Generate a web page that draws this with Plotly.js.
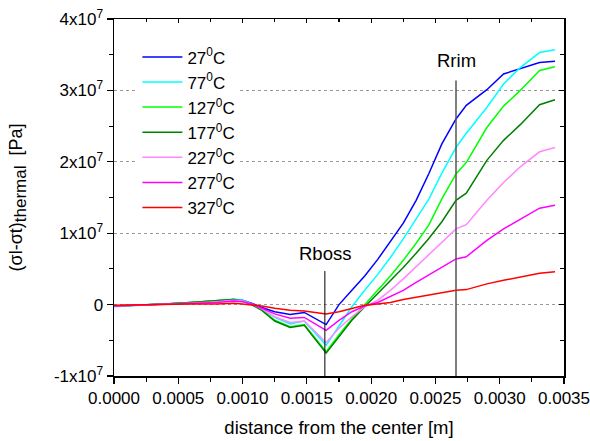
<!DOCTYPE html>
<html>
<head>
<meta charset="utf-8">
<script src="https://cdn.plot.ly/plotly-3.0.1.min.js"></script>
<style>html,body{margin:0;padding:0;background:#fff;}#chart{width:590px;height:441px;}</style>
</head>
<body>
<div id="chart"></div>
<script>
// distance from the center [m]
const xDist = [0, 0.0002, 0.0004, 0.0006, 0.0008, 0.00093, 0.001, 0.00107, 0.00115, 0.00125, 0.00137, 0.00148, 0.00165, 0.00175, 0.00185, 0.00195, 0.00205, 0.00215, 0.00225, 0.00235, 0.00245, 0.00255, 0.00266, 0.00274, 0.0029, 0.00303, 0.00316, 0.00331, 0.00343];
// stress values in units of 1e7 Pa
const s27  = [-0.02,-0.01,0.01,0.03,0.05,0.07,0.06,0.02,-0.04,-0.10,-0.14,-0.11,-0.28, 0.00,0.20,0.40,0.63,0.88,1.14,1.46,1.84,2.25,2.60,2.79,3.01,3.23,3.30,3.39,3.41];
const s77  = [-0.03,-0.01,0.01,0.03,0.05,0.08,0.06,0.01,-0.06,-0.18,-0.27,-0.23,-0.57, -0.30,-0.03,0.20,0.42,0.66,0.92,1.20,1.48,1.84,2.20,2.40,2.76,3.09,3.32,3.53,3.57];
const s127 = [-0.02,-0.01,0.01,0.03,0.05,0.07,0.05,0.00,-0.07,-0.22,-0.31,-0.28,-0.66, -0.42,-0.20,0.00,0.20,0.40,0.62,0.86,1.12,1.48,1.83,1.99,2.48,2.78,3.00,3.28,3.33];
const s177 = [-0.02,-0.01,0.01,0.03,0.05,0.07,0.05,0.00,-0.08,-0.23,-0.32,-0.29,-0.68, -0.45,-0.22,-0.03,0.15,0.33,0.52,0.72,0.93,1.16,1.46,1.56,2.02,2.30,2.52,2.80,2.87];
const s227 = [-0.02,-0.01,0.01,0.02,0.04,0.06,0.05,0.01,-0.06,-0.17,-0.25,-0.23,-0.53, -0.33,-0.17,-0.03,0.06,0.20,0.36,0.53,0.70,0.87,1.06,1.12,1.46,1.71,1.93,2.14,2.20];
const s277 = [-0.02,-0.01,0.01,0.02,0.03,0.05,0.04,0.01,-0.05,-0.13,-0.19,-0.18,-0.36, -0.22,-0.10,-0.02,0.03,0.11,0.20,0.31,0.42,0.53,0.64,0.67,0.90,1.06,1.20,1.35,1.39];
const s327 = [-0.01,0.00,0.00,0.01,0.01,0.02,0.01,0.00,-0.02,-0.05,-0.08,-0.09,-0.13, -0.10,-0.06,-0.01,0.01,0.03,0.07,0.10,0.14,0.17,0.20,0.21,0.29,0.34,0.39,0.44,0.46];

const seriesNames = ['27<sup>0</sup>C','77<sup>0</sup>C','127<sup>0</sup>C','177<sup>0</sup>C','227<sup>0</sup>C','277<sup>0</sup>C','327<sup>0</sup>C'];
const seriesData = [s27, s77, s127, s177, s227, s277, s327];
const seriesColors = ['#0000ff','#00ffff','#00ff00','#008000','#ff88ff','#ff00ff','#ff0000'];

const yTickVals = [-1, 0, 1, 2, 3, 4];
const yTickText = ['-1x10<sup>7</sup>','0','1x10<sup>7</sup>','2x10<sup>7</sup>','3x10<sup>7</sup>','4x10<sup>7</sup>'];
const xTickVals = [0, 0.0005, 0.001, 0.0015, 0.002, 0.0025, 0.003, 0.0035];
const xTickText = ['0.0000','0.0005','0.0010','0.0015','0.0020','0.0025','0.0030','0.0035'];

// marker lines: [x position, top y]
const rBoss = {x: 0.00164, top: 0.47, labelY: 0.71, label: 'Rboss'};
const rRim  = {x: 0.00266, top: 3.14, labelY: 3.42, label: 'Rrim'};

const FONT = 'Liberation Sans, Arial, sans-serif';

const traces = seriesData.map((d, i) => ({
  x: xDist, y: d, type: 'scatter', mode: 'lines', name: seriesNames[i],
  line: {color: seriesColors[i], width: 1.5}
}));
traces.push({x: [], y: [], xaxis: 'x2', yaxis: 'y2', showlegend: false, type: 'scatter', mode: 'lines'});

const layout = {
  width: 590, height: 441,
  margin: {l: 113.5, r: 25.5, t: 18.5, b: 65.3},
  paper_bgcolor: '#fff', plot_bgcolor: '#fff',
  font: {family: FONT, size: 17, color: '#000'},
  showlegend: true,
  legend: {x: 0.052, y: 0.943, xanchor: 'left', yanchor: 'top', bgcolor: '#fff', borderwidth: 0,
           itemwidth: 40,
           font: {family: FONT, size: 17, color: '#000'}, tracegroupgap: 0},
  xaxis: {
    range: [0, 0.0035], tickvals: xTickVals, ticktext: xTickText,
    ticks: 'outside', ticklen: 6, tickwidth: 1.2, tickcolor: '#000',
    minor: {dtick: 0.00025, ticks: 'outside', ticklen: 4, tickwidth: 1.2, tickcolor: '#000', showgrid: false},
    showline: true, linecolor: '#000', linewidth: 1.5, showgrid: false, zeroline: false,
    tickfont: {family: FONT, size: 17, color: '#000'},
    title: {text: 'distance from the center [m]', font: {family: FONT, size: 18.5, color: '#000'}, standoff: 14}
  },
  yaxis: {
    range: [-1, 4], tickvals: yTickVals, ticktext: yTickText,
    ticks: 'outside', ticklen: 6, tickwidth: 1.2, tickcolor: '#000',
    minor: {dtick: 0.5, tick0: 0, ticks: 'outside', ticklen: 4, tickwidth: 1.2, tickcolor: '#000', showgrid: false},
    showline: true, linecolor: '#000', linewidth: 1.5,
    showgrid: true, gridcolor: '#999', griddash: '3px,3px', gridwidth: 1, zeroline: false,
    tickfont: {family: FONT, size: 17, color: '#000'},
    title: {text: '(σl-σt)<sub><span style="font-size:17px">thermal</span></sub>\u00a0\u00a0[Pa]', font: {family: FONT, size: 18, color: '#000'}, standoff: 26}
  },
  xaxis2: {
    overlaying: 'x', side: 'top', anchor: 'y2', matches: 'x', range: [0, 0.0035],
    tickvals: xTickVals, showticklabels: false,
    ticks: 'inside', ticklen: 4, tickwidth: 1.2, tickcolor: '#000',
    minor: {dtick: 0.00025, ticks: 'inside', ticklen: 3, tickwidth: 1.2, tickcolor: '#000'},
    showline: true, linecolor: '#000', linewidth: 1.5, showgrid: false, zeroline: false
  },
  yaxis2: {
    overlaying: 'y', side: 'right', anchor: 'x2', range: [-1, 4],
    tickvals: yTickVals, showticklabels: false,
    ticks: 'inside', ticklen: 5, tickwidth: 1.2, tickcolor: '#000',
    minor: {dtick: 0.5, tick0: 0, ticks: 'inside', ticklen: 4, tickwidth: 1.2, tickcolor: '#000'},
    showline: true, linecolor: '#000', linewidth: 1.8, showgrid: false, zeroline: false
  },
  shapes: [
    {type: 'line', xref: 'x', yref: 'y', x0: rBoss.x, x1: rBoss.x, y0: -1, y1: rBoss.top, line: {color: '#000', width: 1}},
    {type: 'line', xref: 'x', yref: 'y', x0: rRim.x, x1: rRim.x, y0: -1, y1: rRim.top, line: {color: '#555', width: 1.5}}
  ],
  annotations: [
    {xref: 'x', yref: 'y', x: rBoss.x, y: rBoss.labelY, text: rBoss.label, showarrow: false, font: {family: FONT, size: 18.5, color: '#000'}},
    {xref: 'x', yref: 'y', x: rRim.x, y: rRim.labelY, text: rRim.label, showarrow: false, font: {family: FONT, size: 18.5, color: '#000'}}
  ]
};

Plotly.newPlot('chart', traces, layout, {staticPlot: true, displayModeBar: false});
</script>
</body>
</html>
